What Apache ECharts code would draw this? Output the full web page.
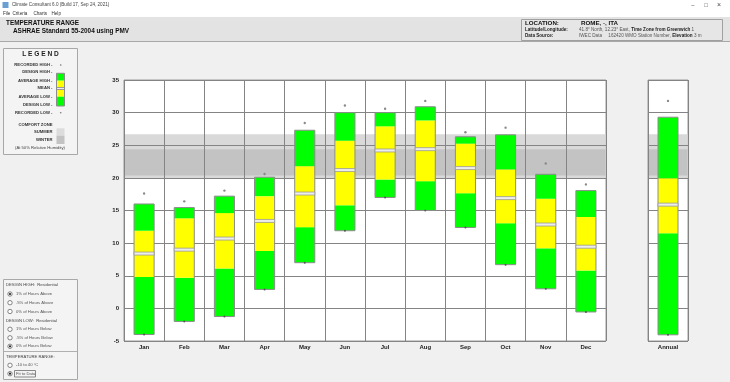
<!DOCTYPE html>
<html>
<head>
<meta charset="utf-8">
<script src="https://cdn.jsdelivr.net/npm/echarts@6/dist/echarts.min.js"></script>
<style>
html,body{margin:0;padding:0;background:#f0f0f0;}
#chart{width:730px;height:382px;}
</style>
</head>
<body>
<div id="chart"></div>
<script>
// ---------- DATA ----------
const months = ['Jan','Feb','Mar','Apr','May','Jun','Jul','Aug','Sep','Oct','Nov','Dec'];
const recordedHigh = [17.6, 16.4, 18.05, 20.6, 28.4, 31.1, 30.6, 31.8, 27.0, 27.7, 22.2, 19.0];
const designHigh   = [16.0, 15.45, 17.2, 20.1, 27.3, 30.0, 30.0, 30.9, 26.3, 26.6, 20.55, 18.05];
const averageHigh  = [11.9, 13.8, 14.6, 17.2, 21.8, 25.7, 27.9, 28.8, 25.25, 21.3, 16.8, 14.0];
const meanTemp     = [8.4, 9.0, 10.7, 13.4, 17.6, 21.2, 24.2, 24.4, 21.5, 16.9, 12.85, 9.45];
const averageLow   = [4.8, 4.7, 6.1, 8.8, 12.45, 15.8, 19.75, 19.5, 17.65, 13.05, 9.2, 5.8];
const designLow    = [-4.0, -2.0, -1.25, 2.9, 7.0, 11.9, 17.0, 15.0, 12.4, 6.7, 3.0, -0.55];
const recordedLow  = [-4.0, -2.0, -1.25, 2.9, 7.0, 11.9, 17.0, 15.0, 12.4, 6.7, 3.0, -0.55];

const annualLabel = ['Annual'];
const annualRecordedHigh = [31.8];
const annualDesignHigh = [29.3];
const annualAverageHigh = [19.95];
const annualMean = [15.9];
const annualAverageLow = [11.5];
const annualDesignLow = [-4.05];
const annualRecordedLow = [-4.05];

const summerZone = [20.0, 26.7];
const winterZone = [20.35, 24.4];

const yTicks = {min: -5, max: 35, interval: 5};

// ---------- BUILD ----------
function rows(rh, dh, ah, m, al, dl, rl) {
  return rh.map((v, i) => [i, rh[i], dh[i], ah[i], m[i], al[i], dl[i], rl[i]]);
}
const monthRows = rows(recordedHigh, designHigh, averageHigh, meanTemp, averageLow, designLow, recordedLow);
const annualRows = rows(annualRecordedHigh, annualDesignHigh, annualAverageHigh, annualMean, annualAverageLow, annualDesignLow, annualRecordedLow);

const GREEN = '#00ff00', YELLOW = '#ffff00', EDGE = '#8c8c8c';

function renderBox(params, api) {
  const i = api.value(0);
  const c = v => api.coord([i, v]);
  const w = api.size([1, 0])[0] * 0.5;
  const cx = c(api.value(1))[0];
  const x0 = cx - w / 2;
  const yRH = c(api.value(1))[1], yDH = c(api.value(2))[1], yAH = c(api.value(3))[1];
  const yM = c(api.value(4))[1], yAL = c(api.value(5))[1], yDL = c(api.value(6))[1], yRL = c(api.value(7))[1];
  return {
    type: 'group',
    children: [
      {type: 'rect', shape: {x: x0, y: yAL, width: w, height: yDL - yAL}, style: {fill: GREEN}},
      {type: 'rect', shape: {x: x0, y: yAH, width: w, height: yAL - yAH}, style: {fill: YELLOW}},
      {type: 'rect', shape: {x: x0, y: yDH, width: w, height: yAH - yDH}, style: {fill: GREEN}},
      {type: 'rect', shape: {x: x0, y: yDH, width: w, height: yDL - yDH}, style: {fill: 'none', stroke: EDGE, lineWidth: 1}},
      {type: 'rect', shape: {x: x0, y: yM - 1.5, width: w, height: 3}, style: {fill: '#ededed', stroke: '#999', lineWidth: 0.8}},
      {type: 'circle', shape: {cx: cx, cy: yRH, r: 1.2}, style: {fill: '#8a8a8a'}},
      {type: 'circle', shape: {cx: cx, cy: yRL, r: 1}, style: {fill: '#555'}}
    ]
  };
}

function renderBand(params, api) {
  const cs = params.coordSys;
  const lo = api.coord([0, api.value(1)])[1];
  const hi = api.coord([0, api.value(2)])[1];
  const kind = api.value(3);
  return {
    type: 'rect',
    shape: {x: cs.x + 0.5, y: hi, width: cs.width - 1, height: lo - hi},
    style: {fill: kind === 0 ? '#d9d9d9' : '#c3c3c3'}
  };
}
const bandRows = [[0, summerZone[0], summerZone[1], 0], [0, winterZone[0], winterZone[1], 1]];

const FONT = '"Liberation Sans", Arial, sans-serif';
const labelStyle = {fontSize: 6, fontWeight: 'bold', color: '#222', fontFamily: FONT};

function xAx(gi, data) {
  return {
    gridIndex: gi, type: 'category', data: data, z: 2,
    axisLine: {show: false}, axisTick: {show: false},
    splitLine: {show: true, interval: 0, lineStyle: {color: '#848484', width: 1}},
    axisLabel: Object.assign({interval: 0, margin: 3}, labelStyle)
  };
}
function yAx(gi, showLabels) {
  return {
    gridIndex: gi, type: 'value', min: yTicks.min, max: yTicks.max, interval: yTicks.interval, z: 2,
    axisLine: {show: false}, axisTick: {show: false},
    splitLine: {show: true, lineStyle: {color: '#848484', width: 1}},
    axisLabel: Object.assign({show: showLabels, margin: 5}, labelStyle)
  };
}

// ---------- UI CHROME (graphic) ----------
const G = [];
function rect(x, y, w, h, fill, stroke, z) {
  G.push({type: 'rect', silent: true, z: z || 0, shape: {x, y, width: w, height: h},
    style: {fill: fill || 'none', stroke: stroke || null, lineWidth: 1}});
}
function text(x, y, s, size, opts) {
  opts = opts || {};
  G.push({type: 'text', silent: true, z: 5, x: x, y: y, style: {
    text: s, fontSize: size, fontFamily: FONT, fontWeight: opts.bold ? 'bold' : 'normal',
    fill: opts.fill || '#222', align: opts.align || 'left', verticalAlign: 'middle',
    rich: opts.rich
  }});
}
function radio(x, y, checked) {
  G.push({type: 'circle', silent: true, z: 5, shape: {cx: x, cy: y, r: 2.2}, style: {fill: '#fff', stroke: '#555', lineWidth: 0.7}});
  if (checked) G.push({type: 'circle', silent: true, z: 6, shape: {cx: x, cy: y, r: 1.1}, style: {fill: '#222'}});
}

// title bar
rect(0, 0, 730, 10, '#ffffff');
rect(2.5, 2, 6, 6, '#6a9fd4');
text(12, 5, 'Climate Consultant 6.0 (Build 17, Sep 24, 2021)', 4.6, {fill: '#444'});
text(693, 5, '−', 6, {fill: '#444', align: 'center'});
text(706, 5, '□', 6, {fill: '#444', align: 'center'});
text(719, 5, '×', 7, {fill: '#444', align: 'center'});
// menu bar
rect(0, 10, 730, 7, '#ffffff');
text(3, 13.3, 'File', 4.6, {fill: '#333'});
text(12.5, 13.3, 'Criteria', 4.6, {fill: '#333'});
text(33.5, 13.3, 'Charts', 4.6, {fill: '#333'});
text(51.5, 13.3, 'Help', 4.6, {fill: '#333'});
// header
rect(0, 17, 730, 25, '#e3e3e3');
G.push({type: 'line', silent: true, shape: {x1: 0, y1: 41.5, x2: 730, y2: 41.5}, style: {stroke: '#a8a8a8', lineWidth: 1.2}});
text(6, 23, 'TEMPERATURE RANGE', 6.4, {bold: true, fill: '#111'});
text(13, 31, 'ASHRAE Standard 55-2004 using PMV', 6.4, {bold: true, fill: '#111'});
rect(521.5, 19.5, 201, 21, '#e6e6e6', '#a0a0a0');
text(525, 23, 'LOCATION:', 6.2, {bold: true, fill: '#111'});
text(581, 23, 'ROME, -, ITA', 6.2, {bold: true, fill: '#111'});
text(525, 30, 'Latitude/Longitude:', 4.6, {bold: true, fill: '#222'});
text(579, 30, '41.8° North, 12.23° East, {b|Time Zone from Greenwich} 1', 4.6,
  {fill: '#555', rich: {b: {fontWeight: 'bold', fill: '#222', fontSize: 4.6, fontFamily: FONT}}});
text(525, 36, 'Data Source:', 4.6, {bold: true, fill: '#222'});
text(579, 36, 'IWEC Data     162420 WMO Station Number, {b|Elevation} 3 m', 4.6,
  {fill: '#555', rich: {b: {fontWeight: 'bold', fill: '#222', fontSize: 4.6, fontFamily: FONT}}});

// left legend panel
rect(3.5, 48.5, 74, 106, '#f4f4f4', '#a8a8a8');
text(40.5, 54, 'L E G E N D', 6.6, {bold: true, align: 'center', fill: '#222'});
const legRows = [['RECORDED HIGH -', 65], ['DESIGN HIGH -', 72.3], ['AVERAGE HIGH -', 80.7], ['MEAN -', 88.3],
  ['AVERAGE LOW -', 96.7], ['DESIGN LOW -', 104.7], ['RECORDED LOW -', 112.7]];
legRows.forEach(r => text(52.5, r[1], r[0], 4.2, {bold: true, align: 'right', fill: '#333'}));
G.push({type: 'circle', silent: true, z: 5, shape: {cx: 60.7, cy: 65, r: 0.8}, style: {fill: '#777'}});
G.push({type: 'circle', silent: true, z: 5, shape: {cx: 60.7, cy: 112.7, r: 0.8}, style: {fill: '#777'}});
rect(56.5, 73.3, 8, 7.4, GREEN, null, 1);
rect(56.5, 80.7, 8, 16, YELLOW, null, 1);
rect(56.5, 96.7, 8, 9.3, GREEN, null, 1);
rect(56.5, 87.5, 8, 2, '#ededed', '#999', 2);
rect(56.5, 73.3, 8, 32.7, 'none', '#8c8c8c', 2);
text(52.5, 125, 'COMFORT ZONE', 4.2, {bold: true, align: 'right', fill: '#333'});
text(52.5, 132.3, 'SUMMER', 4.2, {bold: true, align: 'right', fill: '#333'});
text(52.5, 140.3, 'WINTER', 4.2, {bold: true, align: 'right', fill: '#333'});
rect(56.5, 128.3, 8, 7.4, '#dcdcdc', null, 1);
rect(56.5, 135.7, 8, 8.3, '#c3c3c3', null, 1);
text(40, 147.7, '(At 50% Relative Humidity)', 4.2, {align: 'center', fill: '#444'});

// bottom-left options panel
rect(3.5, 279.5, 74, 100, '#f4f4f4', '#a8a8a8');
G.push({type: 'line', silent: true, shape: {x1: 4, y1: 351.5, x2: 77, y2: 351.5}, style: {stroke: '#b0b0b0', lineWidth: 1}});
text(6, 285, 'DESIGN HIGH:  Residential', 4.2, {fill: '#444'});
const opts = [['1% of Hours Above', 294, true], ['.5% of Hours Above', 302.7, false], ['0% of Hours Above', 311.5, false]];
opts.forEach(o => { radio(10, o[1], o[2]); text(16, o[1], o[0], 4.2, {fill: '#555'}); });
text(6, 320.5, 'DESIGN LOW:  Residential', 4.2, {fill: '#444'});
const opts2 = [['1% of Hours Below', 329.3, false], ['.5% of Hours Below', 337.8, false], ['0% of Hours Below', 346.3, true]];
opts2.forEach(o => { radio(10, o[1], o[2]); text(16, o[1], o[0], 4.2, {fill: '#555'}); });
text(6, 356.7, 'TEMPERATURE RANGE:', 4.2, {fill: '#444'});
radio(10, 365.3, false); text(16, 365.3, '-10 to 40 °C', 4.2, {fill: '#555'});
radio(10, 373.7, true); text(16, 373.7, 'Fit to Data', 4.2, {fill: '#555'});
rect(14.5, 370.5, 21, 6.5, 'none', '#888', 4);

// ---------- CHART ----------
const chart = echarts.init(document.getElementById('chart'), null, {renderer: 'canvas'});
chart.setOption({
  backgroundColor: '#f0f0f0',
  animation: false,
  grid: [
    {left: 124, top: 80, width: 482, height: 261, show: true, backgroundColor: '#ffffff', borderColor: '#9a9a9a', borderWidth: 1},
    {left: 648, top: 80, width: 40, height: 261, show: true, backgroundColor: '#ffffff', borderColor: '#9a9a9a', borderWidth: 1}
  ],
  xAxis: [xAx(0, months), xAx(1, annualLabel)],
  yAxis: [yAx(0, true), yAx(1, false)],
  graphic: {elements: G},
  series: [
    {type: 'custom', xAxisIndex: 0, yAxisIndex: 0, z: 1, silent: true, renderItem: renderBand, data: bandRows},
    {type: 'custom', xAxisIndex: 1, yAxisIndex: 1, z: 1, silent: true, renderItem: renderBand, data: bandRows},
    {type: 'custom', xAxisIndex: 0, yAxisIndex: 0, z: 3, silent: true, renderItem: renderBox, data: monthRows},
    {type: 'custom', xAxisIndex: 1, yAxisIndex: 1, z: 3, silent: true, renderItem: renderBox, data: annualRows}
  ]
});
</script>
</body>
</html>
